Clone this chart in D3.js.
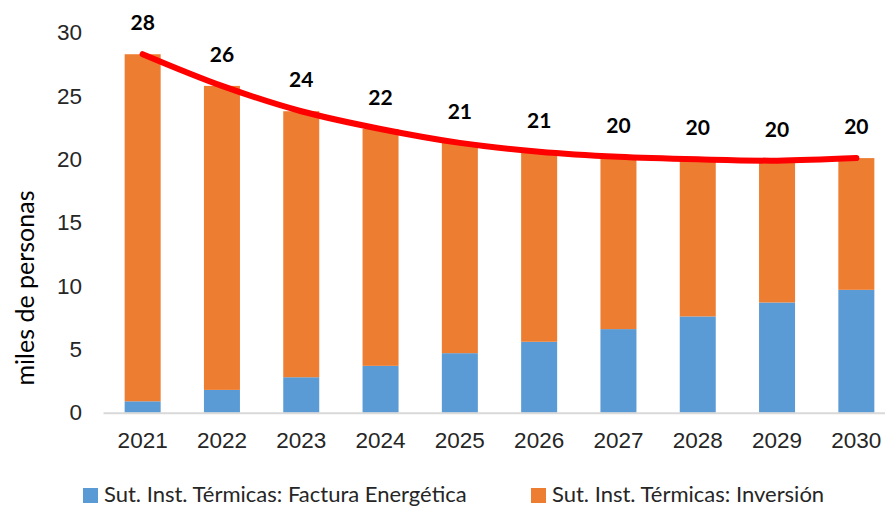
<!DOCTYPE html>
<html>
<head>
<meta charset="utf-8">
<script src="https://cdn.jsdelivr.net/npm/d3@7"></script>
<style>
  body { margin: 0; background: #fff; }
  svg { display: block; font-family: Lato, "Open Sans", sans-serif; }
</style>
</head>
<body>
<script>
// data (miles de personas)
var years = ["2021", "2022", "2023", "2024", "2025", "2026", "2027", "2028", "2029", "2030"];
var factura = [0.9, 1.8, 2.8, 3.7, 4.7, 5.6, 6.6, 7.6, 8.7, 9.7];
var inversion = [27.4, 24.0, 21.0, 18.7, 16.6, 15.0, 13.6, 12.4, 11.2, 10.4];
var yTicks = [0, 5, 10, 15, 20, 25, 30];
var seriesNames = ["Sut. Inst. Térmicas: Factura Energética", "Sut. Inst. Térmicas: Inversión"];

var width = 885, height = 508;

var svg = d3.select("body").append("svg")
    .attr("width", width)
    .attr("height", height);

/* scales */
var x = d3.scaleBand()
    .domain(years)
    .range([103, 896])
    .paddingInner(0.546)
    .paddingOuter(0.273);

var y = d3.scaleLinear()
    .domain([0, 30])
    .range([412.7, 32.7]);

var colors = ["#5B9BD5", "#ED7D31"];

/* stacked table built from the arrays */
var table = years.map(function(yr, i) {
    return { year: yr, factura: factura[i], inversion: inversion[i] };
});
var stack = d3.stack().keys(["factura", "inversion"])(table);

svg.append("g")
    .selectAll("g")
    .data(stack)
    .enter().append("g")
    .attr("fill", function(d, i) { return colors[i]; })
    .selectAll("rect")
    .data(function(d) { return d; })
    .enter().append("rect")
    .attr("x", function(d) { return x(d.data.year); })
    .attr("y", function(d) { return y(d[1]); })
    .attr("width", x.bandwidth())
    .attr("height", function(d) { return y(d[0]) - y(d[1]); });

/* x axis */
var xAxis = svg.append("g")
    .attr("transform", "translate(0," + y(0) + ")")
    .call(d3.axisBottom(x).tickSize(0).tickPadding(19));
xAxis.select(".domain").attr("stroke", "#D9D9D9").attr("stroke-width", 2);
xAxis.selectAll("text")
    .attr("fill", "#262626")
    .style("font-size", "22.5px");

/* y axis (labels only) */
var yAxis = svg.append("g")
    .attr("transform", "translate(82,0)")
    .call(d3.axisLeft(y).tickValues(yTicks).tickSize(0).tickPadding(0));
yAxis.select(".domain").remove();
yAxis.selectAll("text")
    .attr("fill", "#262626")
    .style("font-size", "22.5px");

/* y axis title */
svg.append("text")
    .attr("transform", "translate(34,288) rotate(-90)")
    .attr("text-anchor", "middle")
    .attr("fill", "#000")
    .style("font-size", "25px")
    .text("miles de personas");

/* total line */
var line = d3.line()
    .x(function(d) { return x(d.year) + x.bandwidth() / 2; })
    .y(function(d) { return y(d.factura + d.inversion); })
    .curve(d3.curveCatmullRom.alpha(0.5));

svg.append("path")
    .datum(table)
    .attr("d", line)
    .attr("fill", "none")
    .attr("stroke", "#FF0000")
    .attr("stroke-width", 6)
    .attr("stroke-linecap", "round");

/* total labels */
svg.append("g")
    .selectAll("text")
    .data(table)
    .enter().append("text")
    .attr("x", function(d) { return x(d.year) + x.bandwidth() / 2; })
    .attr("y", function(d) { return y(d.factura + d.inversion) - 24; })
    .attr("text-anchor", "middle")
    .attr("fill", "#000")
    .style("font-size", "21px")
    .style("font-weight", "bold")
    .text(function(d) { return Math.round(d.factura + d.inversion); });

/* legend */
var legendX = [83, 531];
var legend = svg.append("g")
    .selectAll("g")
    .data(seriesNames)
    .enter().append("g")
    .attr("transform", function(d, i) { return "translate(" + legendX[i] + ",488)"; });
legend.append("rect")
    .attr("width", 15)
    .attr("height", 15)
    .attr("fill", function(d, i) { return colors[i]; });
legend.append("text")
    .attr("x", 21)
    .attr("y", 14)
    .attr("fill", "#262626")
    .style("font-size", "22px")
    .text(function(d) { return d; });
</script>
</body>
</html>
